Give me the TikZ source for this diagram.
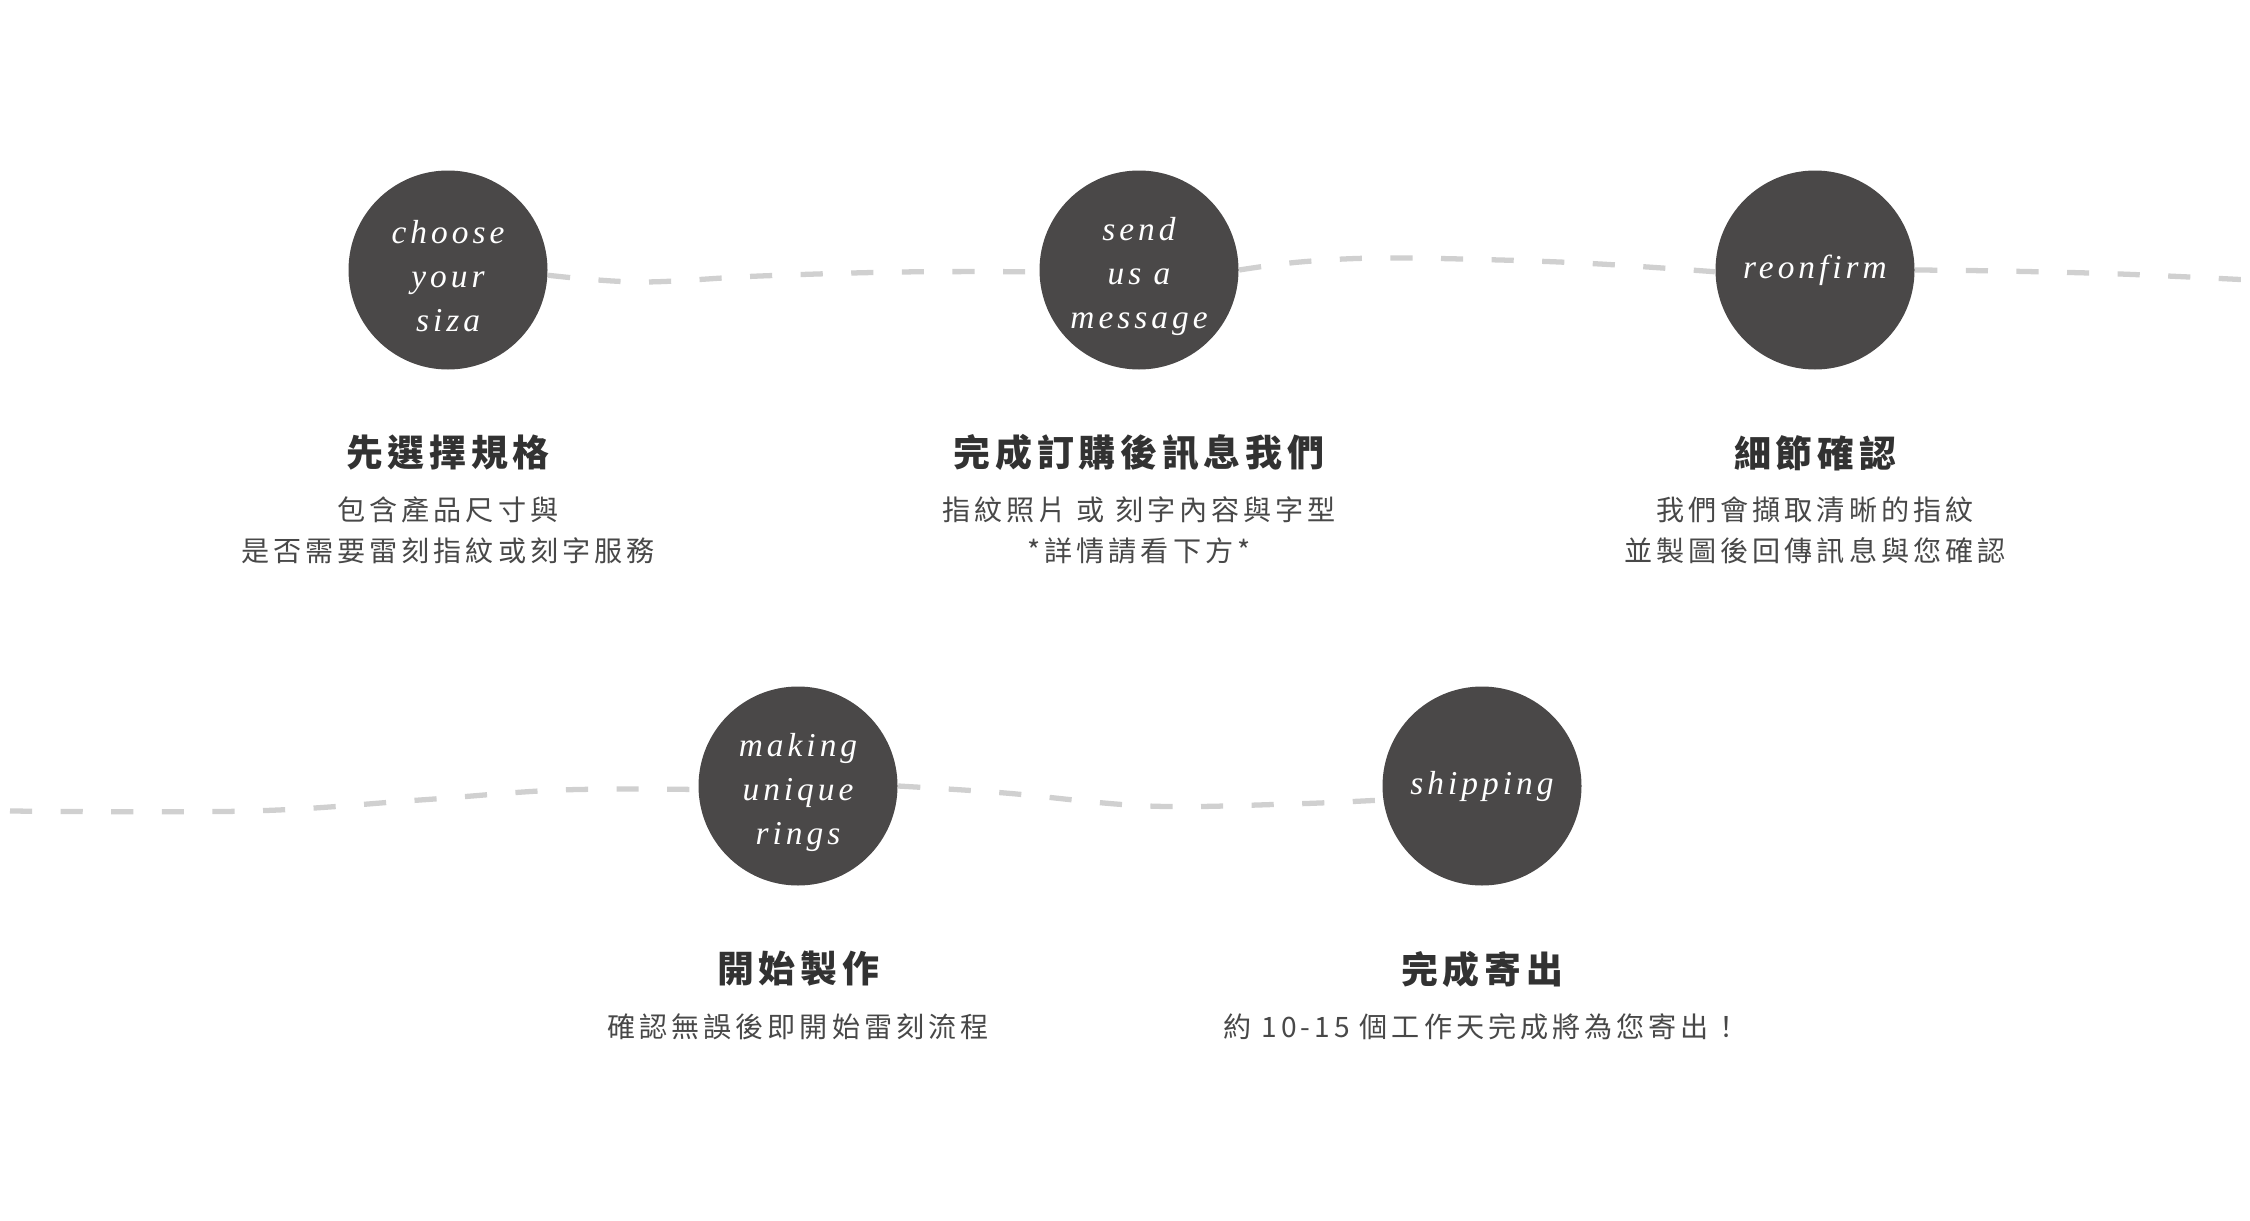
\documentclass[tikz,border=0pt]{standalone}
\usepackage{fontspec}
\newfontfamily\titlefont{Noto Sans CJK TC}[LetterSpace=13]
\newfontfamily\subfont{Noto Sans CJK TC}[LetterSpace=14]
\newfontfamily\circfont{Liberation Serif}[LetterSpace=12]
\newcommand\circstyle{\circfont\fontsize{9.5pt}{12.5pt}\selectfont\itshape}
\newcommand\circtop{\rule{0pt}{10.2pt}}
\definecolor{circfill}{RGB}{74,72,72}
\definecolor{titlecol}{RGB}{50,50,50}
\definecolor{subcol}{RGB}{72,72,72}
\definecolor{dashcol}{RGB}{208,208,208}
\pgfdeclarelayer{bg}
\pgfsetlayers{bg,main}
\tikzset{
  stepcirc/.style={circle, fill=circfill, minimum size=19.9mm, inner sep=0pt, text=white, align=center, font=\circstyle},
  steptitle/.style={inner sep=0pt, text=titlecol, font=\titlefont\bfseries\fontsize{10.5pt}{12pt}\selectfont},
  stepsub/.style={inner sep=0pt, text=subcol, align=center, font=\subfont\fontsize{8pt}{11.7pt}\selectfont},
  dashline/.style={draw=dashcol, line width=1.5pt, dash pattern=on 6.3pt off 8.1pt}
}
\begin{document}
\begin{tikzpicture}[x=0.1mm,y=-0.1mm]
\useasboundingbox (0,0) rectangle (2250,1220);

% circles
\node[stepcirc] (c1) at (448,270) {\circtop choose\\your\\siza};
\node[stepcirc] (c2) at (1139,270) {\circtop send\\us a\\message};
\node[stepcirc] (c3) at (1815,270) {reonfirm};
\node[stepcirc] (c4) at (798,786) {\circtop making\\unique\\rings};
\node[stepcirc] (c5) at (1482,786) {shipping};

% free ends
\coordinate (e1) at (2250,280);
\coordinate (e2) at (10,811);

% texts
\node[steptitle] (t1) at (448,453) {先選擇規格};
\node[stepsub] (s1) at (448,530) {包含產品尺寸與\\是否需要雷刻指紋或刻字服務};
\node[steptitle] (t2) at (1139,453) {完成訂購後訊息我們};
\node[stepsub] (s2) at (1139,530) {指紋照片 或 刻字內容與字型\\*詳情請看下方*};
\node[steptitle] (t3) at (1815,453) {細節確認};
\node[stepsub] (s3) at (1815,530) {我們會擷取清晰的指紋\\並製圖後回傳訊息與您確認};
\node[steptitle] (t4) at (798,969) {開始製作};
\node[stepsub] (s4) at (798,1027) {確認無誤後即開始雷刻流程};
\node[steptitle] (t5) at (1482,969) {完成寄出};
\node[stepsub] (s5) at (1482,1027) {約 10-15 個工作天完成將為您寄出！};

% dashed wavy connectors
\begin{pgfonlayer}{bg}
\fill[white] (0,0) rectangle (2250,1220);
\draw[dashline] plot[smooth,tension=0.6] coordinates {(c1.-3) (640,282) (760,276) (900,272) (c2.181)};
\draw[dashline] plot[smooth,tension=0.6] coordinates {(c2.east) (1300,262) (1380,258) (1500,260) (1600,264) (c3.181)};
\draw[dashline] plot[smooth,tension=0.6] coordinates {(c3.east) (2000,271) (2120,274) (e1)};
\draw[dashline] plot[smooth,tension=0.6] coordinates {(e2) (250,811) (420,800) (560,790) (c4.182)};
\draw[dashline] plot[smooth,tension=0.6] coordinates {(c4.east) (1005,793) (1148,806) (1290,804) (c5.188)};
\end{pgfonlayer}
\end{tikzpicture}
\end{document}
